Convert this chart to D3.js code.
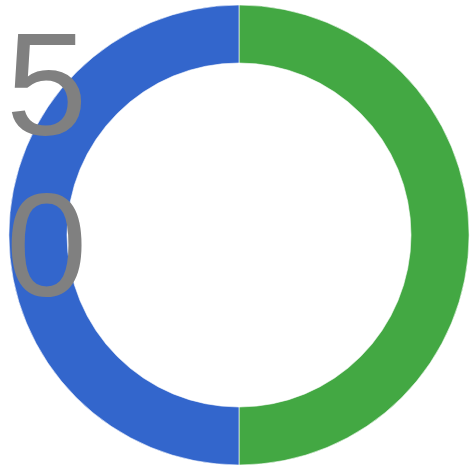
<!DOCTYPE html>
<html>
<head>
<meta charset="utf-8">
<script src="https://cdn.jsdelivr.net/npm/d3@7"></script>
<style>
  body { margin: 0; background: #fff; }
</style>
</head>
<body>
<div id="chart"></div>
<script>
// data
var labels = ["A", "B"];
var values = [50, 50];
var colors = ["#43a843", "#3366cc"];
var centerLabel = "50";

var width = 471,
    height = 467;

var cx = 239, cy = 235,
    outerR = 230, innerR = 172;

var svg = d3.select("#chart")
    .append("svg")
    .attr("width", width)
    .attr("height", height);

var g = svg.append("g")
    .attr("transform", "translate(" + cx + "," + cy + ")");

var pie = d3.pie().sort(null).value(function(d) { return d; });
var arc = d3.arc().innerRadius(innerR).outerRadius(outerR);

g.selectAll("path")
    .data(pie(values))
    .enter()
    .append("path")
    .attr("d", arc)
    .attr("fill", function(d, i) { return colors[i]; })
    .attr("stroke", "#ffffff")
    .attr("stroke-width", 0.6);

// value label, wrapped one character per line
var txt = svg.append("text")
    .attr("x", 6)
    .attr("y", 135)
    .style("font-family", "Arial, 'Liberation Sans', sans-serif")
    .style("font-size", "146px")
    .style("fill", "#808080");

centerLabel.split("").forEach(function(ch, i) {
    txt.append("tspan")
        .attr("x", 6)
        .attr("dy", i === 0 ? 0 : 161)
        .text(ch);
});
</script>
</body>
</html>
